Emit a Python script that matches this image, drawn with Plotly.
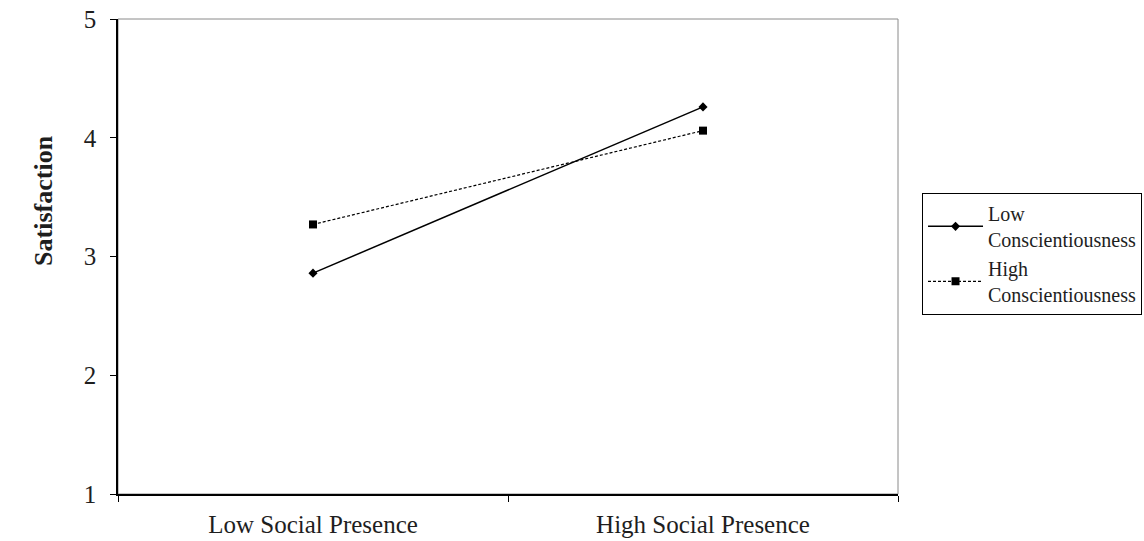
import plotly.graph_objects as go

categories = ["Low Social Presence", "High Social Presence"]
low_consc = [2.86, 4.26]
high_consc = [3.27, 4.06]
series_names = ["Low<br>Conscientiousness", "High<br>Conscientiousness"]
y_ticks = [1, 2, 3, 4, 5]
y_title = "Satisfaction"

FONT = "Liberation Serif, Times New Roman, serif"
TXT = "#1e1e1e"

fig = go.Figure()
fig.add_trace(go.Scatter(
    x=categories, y=low_consc, name=series_names[0], mode="lines+markers",
    line=dict(color="black", width=1.5),
    marker=dict(symbol="diamond", size=7, color="black"),
))
fig.add_trace(go.Scatter(
    x=categories, y=high_consc, name=series_names[1], mode="lines+markers",
    line=dict(color="black", width=1.2, dash="3px,2px"),
    marker=dict(symbol="square", size=8, color="black"),
))

# gray frame (top/right)
fig.add_shape(type="rect", xref="paper", yref="paper", x0=0, x1=1, y0=0, y1=1,
              line=dict(color="#8a8a8a", width=1), layer="below")

fig.add_annotation(
    text="<b>" + y_title + "</b>", xref="paper", yref="paper",
    x=-0.095, y=0.619, xanchor="center", yanchor="middle",
    textangle=-90, showarrow=False,
    font=dict(family=FONT, size=26, color=TXT),
)

fig.update_layout(
    width=1144, height=541,
    margin=dict(l=118, r=246, t=19, b=47, autoexpand=False),
    paper_bgcolor="white", plot_bgcolor="white",
    font=dict(family=FONT, color=TXT),
    showlegend=True,
    legend=dict(
        x=1.0308, y=0.634, xanchor="left", yanchor="top",
        bordercolor="black", borderwidth=1,
        font=dict(family=FONT, size=20, color=TXT),
        tracegroupgap=6, itemwidth=55,
    ),
    xaxis=dict(
        type="category", range=[-0.5, 1.5], automargin=False,
        tickson="boundaries", ticks="outside", ticklen=6, tickcolor="black",
        showline=True, linecolor="black", linewidth=1.5,
        showgrid=False, zeroline=False, ticklabelstandoff=7,
        tickfont=dict(family=FONT, size=25, color=TXT),
    ),
    yaxis=dict(
        range=[1, 5], tickvals=y_ticks, ticks="outside", ticklen=6, tickcolor="black",
        showline=True, linecolor="black", linewidth=1.5, automargin=False,
        showgrid=False, zeroline=False, ticklabelstandoff=9,
        tickfont=dict(family=FONT, size=25, color=TXT),
    ),
)

fig.write_html("out.html", config={"displayModeBar": False},
               post_script="document.body.style.margin='0';")
